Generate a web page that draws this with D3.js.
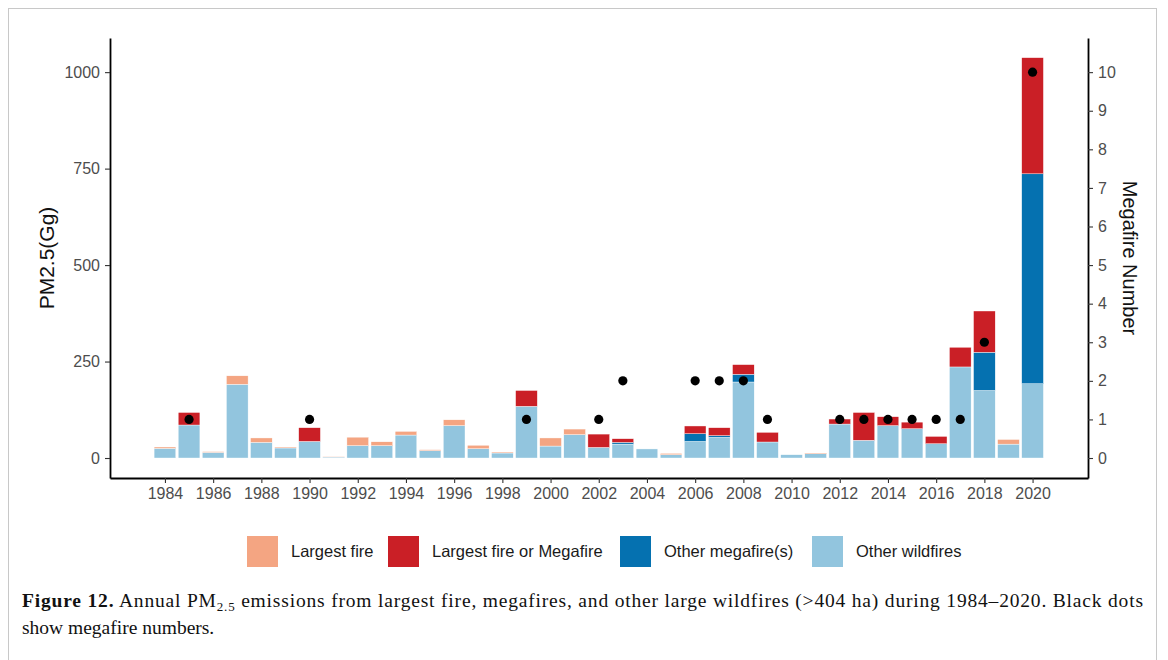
<!DOCTYPE html>
<html>
<head>
<meta charset="utf-8">
<script src="https://cdn.jsdelivr.net/npm/d3@7"></script>
<style>
  html, body { margin: 0; padding: 0; background: #fff; }
  svg { display: block; }
</style>
</head>
<body>
<svg id="chart" width="1168" height="660"></svg>
<script>
// ---------------- DATA ----------------
const years = [1984,1985,1986,1987,1988,1989,1990,1991,1992,1993,1994,1995,1996,1997,1998,1999,2000,
               2001,2002,2003,2004,2005,2006,2007,2008,2009,2010,2011,2012,2013,2014,2015,2016,2017,2018,2019,2020];
// PM2.5 (Gg), stacked bottom -> top
const otherWildfires = [25,85.5,14.5,191,40.5,26,43,2.5,32,32,59.5,19,84,24,13,134,31,
                        60.5,27.5,36,23.5,8.5,43,53.5,197,41.5,8.5,11,88,46,84,76,37,236,175,36,192.5];
const otherMegafires = [0,0,0,0,0,0,0,0,0,0,0,0,0,0,0,0,0,
                        0,0,4.5,0,0,20,4.5,20,0,0,0,0,0,0,0,0,0,99,0,544];
const largestFire    = [3.5,0,2,22,11.5,2.5,0,1,22,10,9.5,2.5,15,9,2.5,0,21,
                        14.5,0,0,0,3.5,0,0,0,0,0,2,0,0,0,0,0,0,0,12,0];
const largestOrMega  = [0,32.5,0,0,0,0,35.5,0,0,0,0,0,0,0,0,41,0,
                        0,34.5,9.5,0,0,20,20.5,25,25,0,0,13,72,23,17,19,51,107,0,301];
// Megafire number (right axis); null = no megafire
const megafireNumber = [null,1,null,null,null,null,1,null,null,null,null,null,null,null,null,1,null,
                        null,1,2,null,null,2,2,2,1,null,null,1,1,1,1,1,1,3,null,10];

const seriesKeys   = ["Other wildfires","Other megafire(s)","Largest fire","Largest fire or Megafire"];
const legendOrder  = ["Largest fire","Largest fire or Megafire","Other megafire(s)","Other wildfires"];
const xTickYears   = [1984,1986,1988,1990,1992,1994,1996,1998,2000,2002,2004,2006,2008,2010,2012,2014,2016,2018,2020];
const yTicksLeft   = [0,250,500,750,1000];
const yTicksRight  = [0,1,2,3,4,5,6,7,8,9,10];

// ---------------- STYLE ----------------
const colors = {
  "Largest fire": "#F4A582",
  "Largest fire or Megafire": "#CA1F26",
  "Other megafire(s)": "#0571B0",
  "Other wildfires": "#92C5DE"
};

const svg = d3.select("#chart");

// outer figure frame
svg.append("rect").attr("x", 8.5).attr("y", 8.5).attr("width", 1148).attr("height", 700)
  .attr("fill", "none").attr("stroke", "#c8c8c8").attr("stroke-width", 1);

const plot = { left: 110, right: 1088, top: 38, bottom: 478 };

const x = d3.scaleLinear().domain([1981.72, 2022.3]).range([plot.left, plot.right]);
const yL = d3.scaleLinear().domain([-51.8, 1088.5]).range([plot.bottom, plot.top]);
const yR = d3.scaleLinear().domain([-0.518, 10.885]).range([plot.bottom, plot.top]);
const bw = (x(1985) - x(1984)) * 0.9;

// table for stacking
const table = years.map((yr, i) => ({
  year: yr,
  "Other wildfires": otherWildfires[i],
  "Other megafire(s)": otherMegafires[i],
  "Largest fire": largestFire[i],
  "Largest fire or Megafire": largestOrMega[i]
}));
const stacked = d3.stack().keys(seriesKeys)(table);

const gBars = svg.append("g");
stacked.forEach(layer => {
  gBars.selectAll(null).data(layer.filter(d => d[1] - d[0] > 0)).enter().append("rect")
    .attr("x", d => x(d.data.year) - bw / 2)
    .attr("width", bw)
    .attr("y", d => yL(d[1]))
    .attr("height", d => yL(d[0]) - yL(d[1]))
    .attr("fill", colors[layer.key])
    .attr("stroke", "#ffffff").attr("stroke-width", 0.4);
});

// megafire dots
svg.append("g").selectAll("circle")
  .data(years.map((yr, i) => ({ year: yr, n: megafireNumber[i] })).filter(d => d.n !== null))
  .enter().append("circle")
  .attr("cx", d => x(d.year)).attr("cy", d => yR(d.n)).attr("r", 4.6).attr("fill", "#000");

// axes
function styleAxis(g) {
  g.selectAll(".domain").attr("stroke", "#000").attr("stroke-width", 1.8);
  g.selectAll(".tick line").attr("stroke", "#333").attr("stroke-width", 1.1);
  g.selectAll(".tick text").attr("fill", "#4D4D4D").style("font-family", "Liberation Sans, Arial, sans-serif").style("font-size", "16px");
}

const axL = svg.append("g").attr("transform", `translate(${plot.left},0)`)
  .call(d3.axisLeft(yL).tickValues(yTicksLeft).tickSize(5).tickSizeOuter(0).tickPadding(5).tickFormat(d3.format("d")));
styleAxis(axL);

const axR = svg.append("g").attr("transform", `translate(${plot.right},0)`)
  .call(d3.axisRight(yR).tickValues(yTicksRight).tickSize(5).tickSizeOuter(0).tickPadding(5).tickFormat(d3.format("d")));
styleAxis(axR);

const axB = svg.append("g").attr("transform", `translate(0,${plot.bottom})`)
  .call(d3.axisBottom(x).tickValues(xTickYears).tickSize(5).tickSizeOuter(0).tickPadding(5).tickFormat(d3.format("d")));
styleAxis(axB);

// axis titles
svg.append("text").attr("transform", `translate(54,258) rotate(-90)`)
  .attr("text-anchor", "middle").attr("fill", "#111")
  .style("font-family", "Liberation Sans, Arial, sans-serif").style("font-size", "21px")
  .text("PM2.5(Gg)");
svg.append("text").attr("transform", `translate(1123,258) rotate(90)`)
  .attr("text-anchor", "middle").attr("fill", "#111")
  .style("font-family", "Liberation Sans, Arial, sans-serif").style("font-size", "20px")
  .text("Megafire Number");

// legend
const legendX = [247, 388, 620, 812];
const lg = svg.append("g");
legendOrder.forEach((k, i) => {
  lg.append("rect").attr("x", legendX[i]).attr("y", 536).attr("width", 31).attr("height", 31)
    .attr("fill", colors[k]);
  lg.append("text").attr("x", legendX[i] + 44).attr("y", 557)
    .attr("fill", "#1a1a1a")
    .style("font-family", "Liberation Sans, Arial, sans-serif").style("font-size", "16.5px")
    .text(k);
});

// caption
const cap = svg.append("g").style("font-family", "Liberation Serif, 'DejaVu Serif', serif").style("font-size", "19.5px").attr("fill", "#111");
const line1 = cap.append("text").attr("x", 22).attr("y", 607);
line1.append("tspan").attr("font-weight", "bold").text("Figure 12.");
line1.append("tspan").text(" Annual PM");
line1.append("tspan").attr("font-size", "13px").attr("dy", 4).text("2.5");
line1.append("tspan").attr("dy", -4).text(" emissions from largest fire, megafires, and other large wildfires (>404 ha) during 1984–2020. Black dots");
line1.attr("textLength", 1121).attr("lengthAdjust", "spacing");
cap.append("text").attr("x", 22).attr("y", 634).text("show megafire numbers.");
</script>
</body>
</html>
